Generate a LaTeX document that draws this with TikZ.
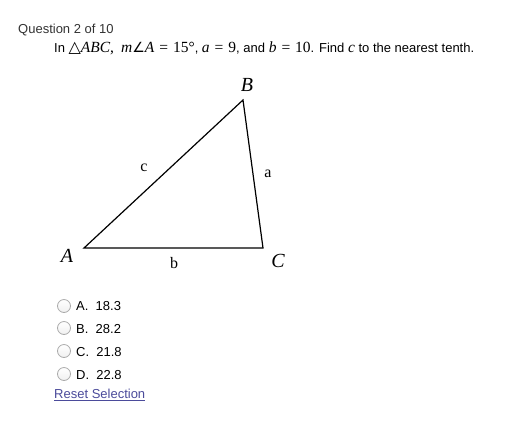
\documentclass[tikz,border=0pt]{standalone}
\usepackage{fontspec}
\setmainfont{Liberation Sans}
\newfontfamily\tms{Liberation Serif}
\newfontfamily\djv{DejaVu Sans}
\newcommand\mvar[1]{{\tms\itshape\fontsize{15.5}{17}\selectfont #1}}
\newcommand\mrm[1]{{\tms\fontsize{15.5}{17}\selectfont #1}}
\newcommand\meq{\mrm{\hspace{5pt}=\hspace{5pt}}}
\definecolor{qgray}{HTML}{333333}
\definecolor{linkc}{HTML}{4B4B9B}
\definecolor{radio}{HTML}{ABABAB}
\begin{document}
\begin{tikzpicture}[x=1pt,y=-1pt,
  sans/.style={font=\fontsize{13}{15}\selectfont, inner sep=0pt, anchor=base west},
  vlab/.style={font=\tms\itshape\fontsize{20}{22}\selectfont, inner sep=0pt},
  slab/.style={font=\tms\fontsize{16}{18}\selectfont, inner sep=0pt},
  side/.style={line width=1.2pt, line join=miter},
  radiobtn/.style={circle, draw=radio, line width=0.8pt, minimum size=13pt, inner sep=0pt, top color=white, bottom color=gray!12}]
\useasboundingbox (0,0) rectangle (527,437);
\fill[white] (0,0) rectangle (527,437);
\node[sans, text=qgray] (title) at (18,33) {Question 2 of 10};
\node[sans] (q) at (54,52) {In {\djv\fontsize{16}{17}\selectfont △}\mvar{ABC}\mrm{,}\hspace{7pt}\mvar{m}{\djv\fontsize{14}{15}\selectfont ∠}\mvar{A}\meq\mrm{15°}, \mvar{a}\meq\mrm{9}, and \mvar{b}\meq\mrm{10}. Find \mvar{c} to the nearest tenth.};
% triangle
\coordinate (A) at (84,248);
\coordinate (B) at (243,100);
\coordinate (C) at (263,248);
\draw[side] (A) -- (B) -- (C) -- cycle;
\node[vlab] (lA) at (67,256) {A};
\node[vlab] (lB) at (247,85) {B};
\node[vlab] (lC) at (278,261) {C};
\node[slab] (la) at (268,174) {a};
\node[slab] (lb) at (174,263) {b};
\node[slab] (lc) at (144,168) {c};
% options
\node[radiobtn] (r1) at (64,306) {};
\node[radiobtn] (r2) at (64,328) {};
\node[radiobtn] (r3) at (64,351) {};
\node[radiobtn] (r4) at (64,374) {};
\node[sans] (o1) at (76,310.7) {A.\ \ 18.3};
\node[sans] (o2) at (76,333) {B.\ \ 28.2};
\node[sans] (o3) at (76,356) {C.\ \ 21.8};
\node[sans] (o4) at (76,379) {D.\ \ 22.8};
\node[sans, text=linkc] (reset) at (54,398) {Reset Selection};
\draw[linkc, line width=0.7pt] (reset.base west) ++(0,2) -- ([yshift=-2pt]reset.base east);
\end{tikzpicture}
\end{document}
